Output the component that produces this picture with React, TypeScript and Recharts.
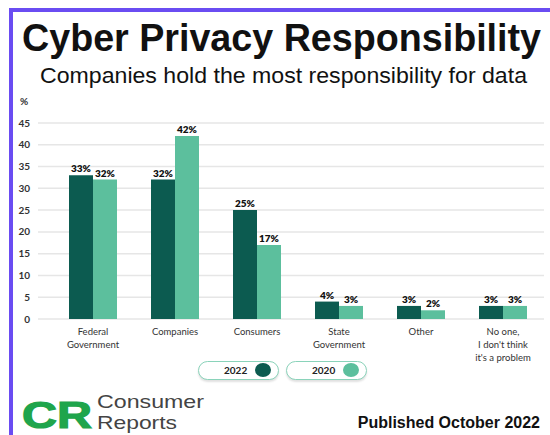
import React from "react";
import { BarChart, Bar, XAxis, YAxis, CartesianGrid, LabelList } from "recharts";

const categories = [
  "Federal\nGovernment",
  "Companies",
  "Consumers",
  "State\nGovernment",
  "Other",
  "No one,\nI don't think\nit's a problem",
];
const values2022 = [33, 32, 25, 4, 3, 3];
const values2020 = [32, 42, 17, 3, 2, 3];
const yTicks = [0, 5, 10, 15, 20, 25, 30, 35, 40, 45];
const seriesNames = ["2022", "2020"];

const DARK = "#0c5b50";
const LIGHT = "#5cbf9d";
const PURPLE = "#6a4cf2";
const FONT = "Lato, 'Open Sans', sans-serif";
const SANS = "'Liberation Sans', Arial, sans-serif";

const data = categories.map((name, i) => ({
  name,
  y2022: values2022[i],
  y2020: values2020[i],
}));

function CategoryTick(props: any) {
  const { x, y, payload } = props;
  const lines = String(payload.value).split("\n");
  return (
    <text x={x} y={y} textAnchor="middle" fontSize={9.5} fill="#333" fontFamily={FONT}>
      {lines.map((line, i) => (
        <tspan key={i} x={x} dy={i === 0 ? 8 : 13}>
          {line}
        </tspan>
      ))}
    </text>
  );
}

function Pill({ left, label, color }: { left: number; label: string; color: string }) {
  return (
    <div
      style={{
        position: "absolute",
        left,
        top: 361,
        width: 81,
        height: 19,
        boxSizing: "border-box",
        border: "1.5px solid #8ad3ba",
        borderRadius: 10,
        background: "#fff",
        boxShadow: "0 2px 2px rgba(0,0,0,0.12)",
      }}
    >
      <span
        style={{
          position: "absolute",
          left: 25,
          top: 2,
          fontSize: 10,
          fontWeight: 700,
          fontFamily: FONT,
          color: "#222",
          lineHeight: "13px",
        }}
      >
        {label}
      </span>
      <span
        style={{
          position: "absolute",
          left: 56,
          top: 1,
          width: 16,
          height: 14,
          borderRadius: "50%",
          background: color,
        }}
      />
    </div>
  );
}

export default function App() {
  return (
    <div style={{ position: "absolute", left: 0, top: 0, width: 550, height: 435, background: "#fff", overflow: "hidden" }}>
      <div
        style={{
          position: "absolute",
          left: 9,
          top: 8,
          width: 560,
          height: 440,
          borderTop: `4px solid ${PURPLE}`,
          borderLeft: `4px solid ${PURPLE}`,
        }}
      />
      <svg width={550} height={435} style={{ position: "absolute", left: 0, top: 0 }}>
        <text x={22} y={51} fontSize={38} fontWeight={700} fill="#111" fontFamily={SANS} textLength={519} lengthAdjust="spacingAndGlyphs">
          Cyber Privacy Responsibility
        </text>
        <text x={40} y={83} fontSize={22.5} fill="#111" fontFamily={SANS} textLength={487} lengthAdjust="spacingAndGlyphs">
          Companies hold the most responsibility for data
        </text>
        <text x={20} y={105} fontSize={10} fontWeight={700} fill="#333" fontFamily={FONT}>
          %
        </text>
        <text x={22} y={428} fontSize={36} fontWeight={900} fill="#1fa54c" stroke="#1fa54c" strokeWidth={1.2} fontFamily={SANS} textLength={70} lengthAdjust="spacingAndGlyphs">
          CR
        </text>
        <text x={97} y={408} fontSize={18.5} fill="#444" fontFamily={SANS} textLength={107} lengthAdjust="spacingAndGlyphs">
          Consumer
        </text>
        <text x={97} y={429} fontSize={18.5} fill="#444" fontFamily={SANS} textLength={80} lengthAdjust="spacingAndGlyphs">
          Reports
        </text>
        <text x={540} y={428} textAnchor="end" fontSize={16} fontWeight={700} fill="#111" fontFamily={SANS}>
          Published October 2022
        </text>
      </svg>
      <div style={{ position: "absolute", left: 0, top: 0 }}>
        <BarChart
          width={550}
          height={435}
          data={data}
          margin={{ top: 123, right: 6, bottom: 76, left: 8 }}
          barGap={0}
          barSize={24}
        >
          <CartesianGrid vertical={false} stroke="#e6e6e6" strokeWidth={1.5} />
          <XAxis
            dataKey="name"
            tick={<CategoryTick />}
            tickLine={false}
            axisLine={false}
            interval={0}
            height={40}
            padding={{ left: 14, right: 0 }}
          />
          <YAxis
            width={30}
            domain={[0, 45]}
            ticks={yTicks}
            tickLine={false}
            axisLine={false}
            tick={{ fontSize: 10, fill: "#333", fontFamily: FONT, fontWeight: 700 }}
            interval={0}
          />
          <Bar dataKey="y2022" name={seriesNames[0]} fill={DARK} isAnimationActive={false}>
            <LabelList
              dataKey="y2022"
              position="top"
              offset={3}
              formatter={(v: any) => `${v}%`}
              style={{ fontSize: 10, fontWeight: 800, fill: "#111", fontFamily: FONT }}
            />
          </Bar>
          <Bar dataKey="y2020" name={seriesNames[1]} fill={LIGHT} isAnimationActive={false}>
            <LabelList
              dataKey="y2020"
              position="top"
              offset={3}
              formatter={(v: any) => `${v}%`}
              style={{ fontSize: 10, fontWeight: 800, fill: "#111", fontFamily: FONT }}
            />
          </Bar>
        </BarChart>
      </div>
      <Pill left={198} label={seriesNames[0]} color={DARK} />
      <Pill left={286} label={seriesNames[1]} color={LIGHT} />
    </div>
  );
}
